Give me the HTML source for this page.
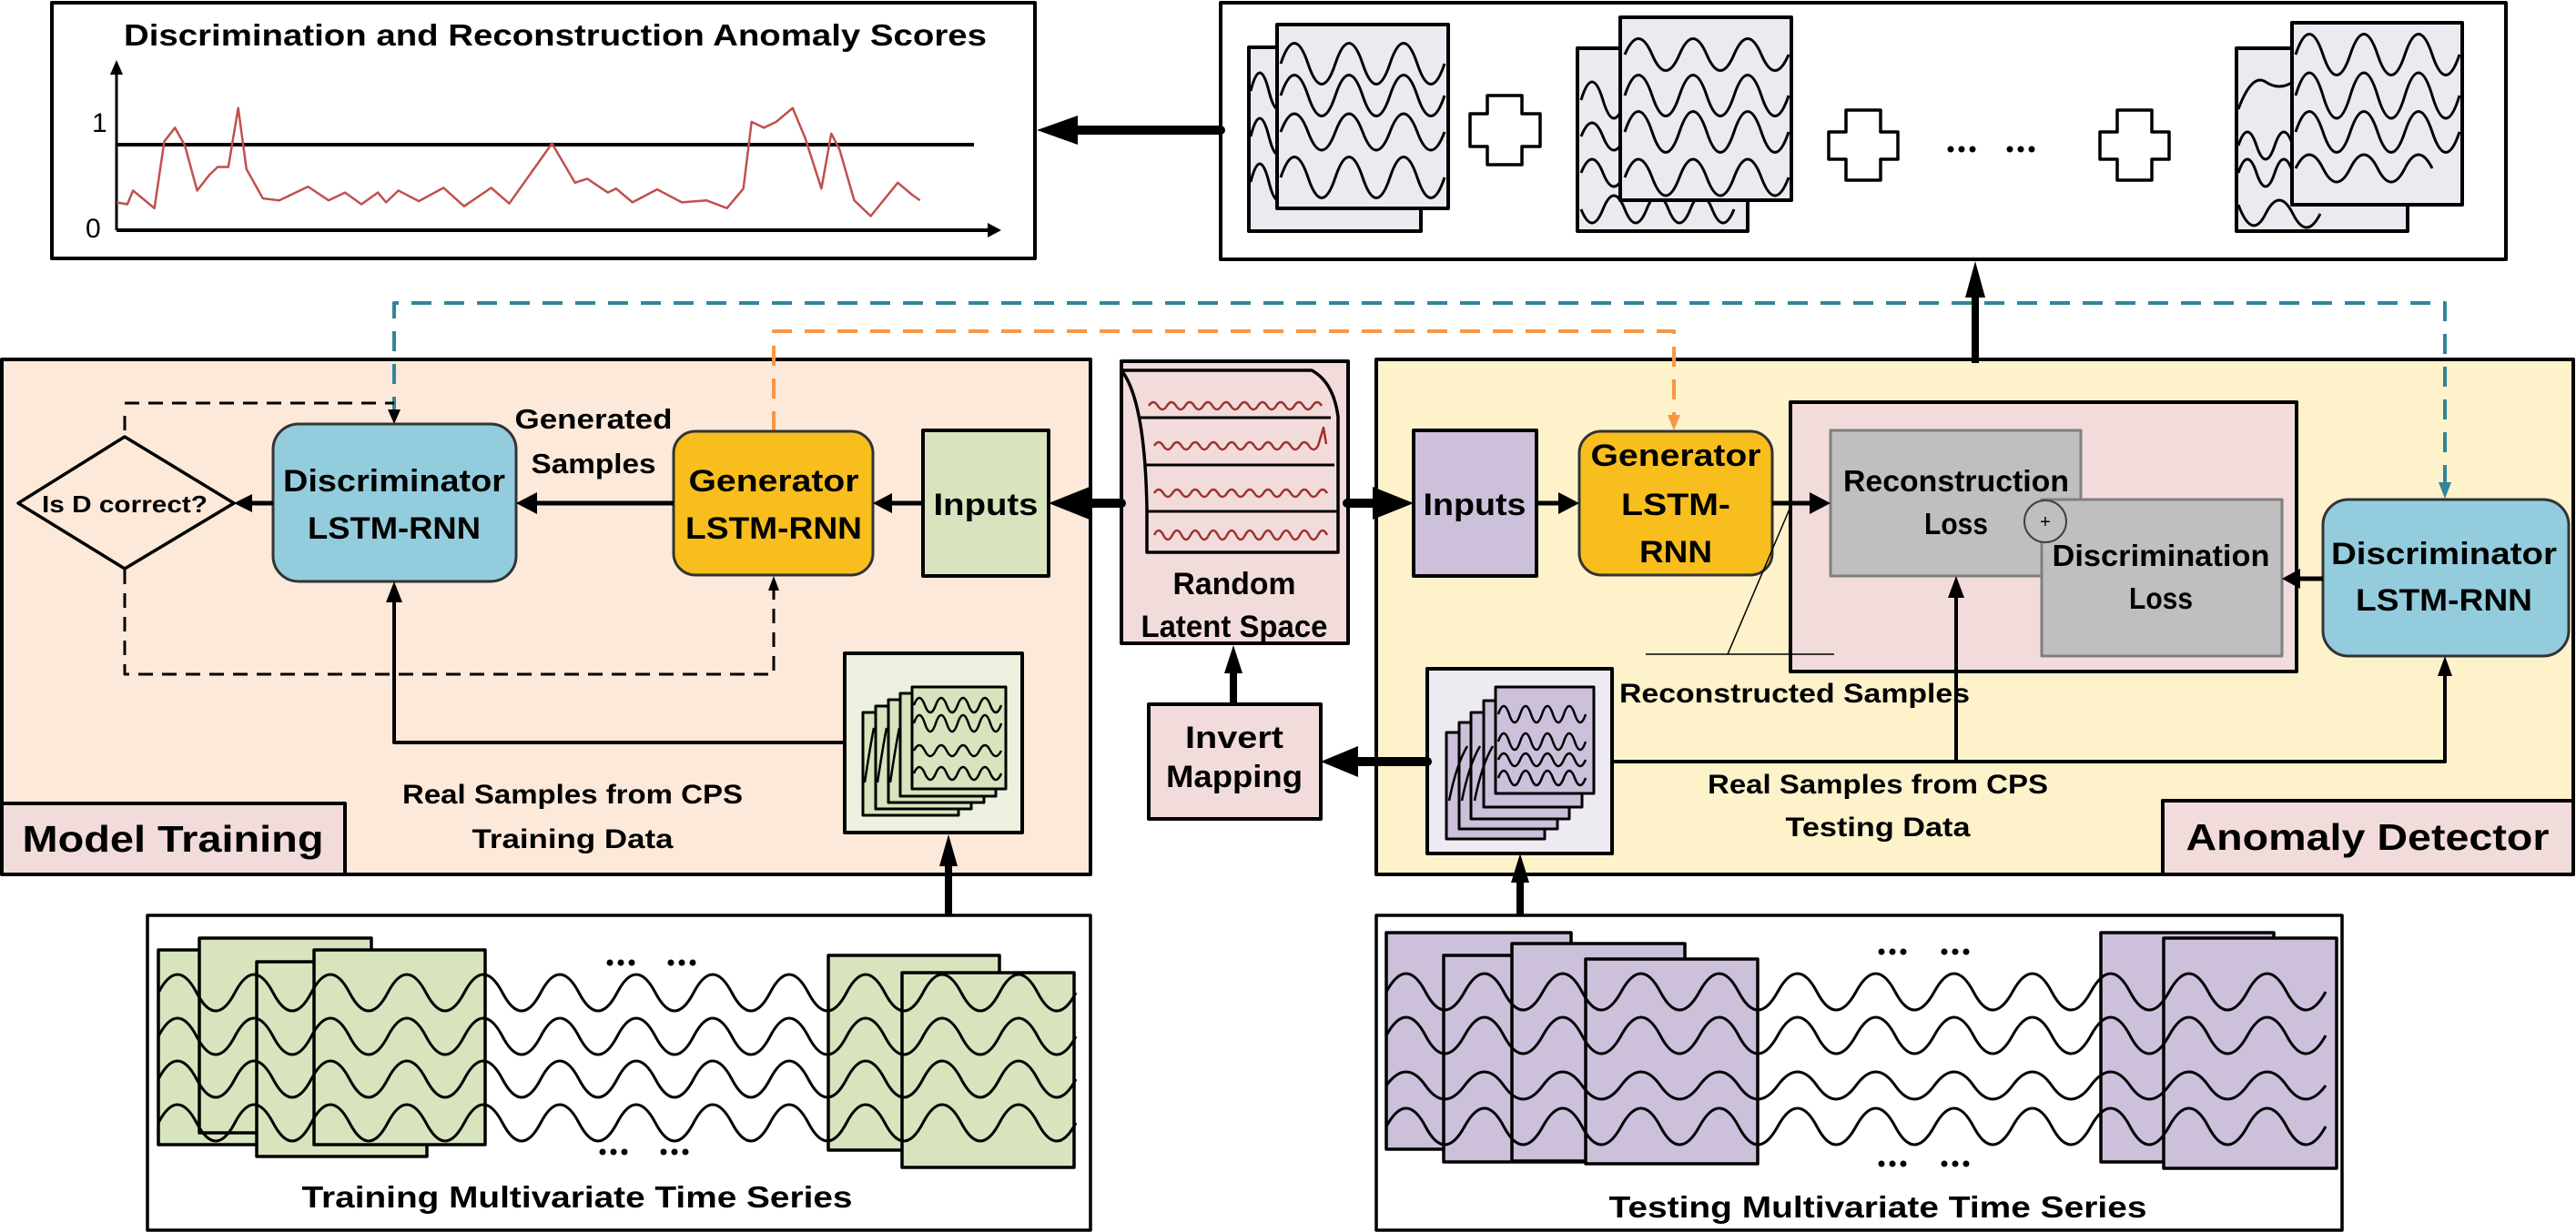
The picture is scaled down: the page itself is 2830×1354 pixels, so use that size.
<!DOCTYPE html>
<html><head><meta charset="utf-8"><style>
html,body{margin:0;padding:0;background:#fff}
svg{display:block}
text{font-family:"Liberation Sans",sans-serif;font-weight:bold;fill:#000}
</style></head><body>
<svg width="2830" height="1354" viewBox="0 0 2830 1354" xmlns="http://www.w3.org/2000/svg">
<g fill="none" stroke="#000" stroke-linejoin="round">

<!-- ============ SCORE BOX ============ -->
<rect x="57" y="3" width="1080" height="281" fill="#fff" stroke-width="4"/>
<line x1="128" y1="253" x2="128" y2="80" stroke-width="3"/>
<polygon points="128,66 121,82 135,82" fill="#000" stroke="none"/>
<line x1="128" y1="253" x2="1085" y2="253" stroke-width="4"/>
<polygon points="1100,253 1085,245 1085,261" fill="#000" stroke="none"/>
<line x1="128" y1="159" x2="1070" y2="159" stroke-width="4"/>
<g transform="scale(0.9024 0.4318)">
<path vector-effect="non-scaling-stroke" stroke="#C0504D" stroke-width="2.5" d="M142,515 L155,520 L162,485 L188,530 L200,360 L213,325 L225,370 L240,485 L255,445 L265,425 L278,425 L290,275 L300,430 L320,505 L340,510 L375,475 L400,510 L420,490 L440,520 L460,490 L470,515 L485,485 L510,512 L540,478 L565,525 L598,478 L620,518 L672,365 L700,465 L715,455 L740,490 L750,480 L770,515 L800,482 L830,515 L860,510 L885,530 L905,480 L915,310 L930,325 L945,310 L965,275 L980,350 L1000,480 L1012,340 L1022,380 L1040,510 L1060,550 L1093,465 L1110,495 L1120,510"/>
</g>

<!-- ============ TOP RIGHT BOX ============ -->
<rect x="1341" y="3" width="1412" height="282" fill="#fff" stroke-width="4"/>
<!-- group1 -->
<rect x="1372" y="52" width="189" height="202" fill="#EDE9F1" stroke-width="4"/>
<path stroke-width="3" d="M1374,100 q10,-40 20,0 t20,0 M1374,150 q10,-40 20,0 t20,0 M1374,200 q10,-40 20,0 t20,0"/>
<rect x="1403" y="27" width="188" height="202" fill="#EDE9F1" stroke-width="4"/>
<path stroke-width="3" d="M1407,70 q15,-45 30,0 t30,0 t30,0 t30,0 t30,0 t30,0 M1407,105 q15,-45 30,0 t30,0 t30,0 t30,0 t30,0 t30,0 M1407,145 q15,-40 30,0 t30,0 t30,0 t30,0 t30,0 t30,0 M1407,195 q15,-45 30,0 t30,0 t30,0 t30,0 t30,0 t30,0"/>
<!-- plus shapes -->
<path fill="#fff" stroke-width="3.5" d="M1634,105 h38 v20 h20 v36 h-20 v20 h-38 v-20 h-19 v-36 h19 z"/>
<path fill="#fff" stroke-width="3.5" d="M2028,121 h38 v24 h19 v30 h-19 v23 h-38 v-23 h-19 v-30 h19 z"/>
<path fill="#fff" stroke-width="3.5" d="M2326,121 h38 v24 h19 v30 h-19 v23 h-38 v-23 h-19 v-30 h19 z"/>
<!-- group2 -->
<rect x="1733" y="53" width="187" height="201" fill="#EDE9F1" stroke-width="4"/>
<path stroke-width="3" d="M1737,110 q12,-40 24,0 t24,0 M1737,150 q12,-30 24,0 t24,0 M1737,190 q12,-30 24,0 t24,0 M1737,230 q12,30 24,0 t24,0 t24,0 t24,0 t24,0 t24,0 t24,0"/>
<rect x="1780" y="19" width="188" height="201" fill="#EDE9F1" stroke-width="4"/>
<path stroke-width="3" d="M1785,60 q15,-35 30,0 t30,0 t30,0 t30,0 t30,0 t30,0 M1785,105 q15,-45 30,0 t30,0 t30,0 t30,0 t30,0 t30,0 M1785,145 q15,-45 30,0 t30,0 t30,0 t30,0 t30,0 t30,0 M1785,195 q15,-40 30,0 t30,0 t30,0 t30,0 t30,0 t30,0"/>
<circle cx="2143" cy="164" r="3.5" fill="#000" stroke="none"/><circle cx="2155" cy="164" r="3.5" fill="#000" stroke="none"/><circle cx="2167" cy="164" r="3.5" fill="#000" stroke="none"/>
<circle cx="2208" cy="164" r="3.5" fill="#000" stroke="none"/><circle cx="2220" cy="164" r="3.5" fill="#000" stroke="none"/><circle cx="2232" cy="164" r="3.5" fill="#000" stroke="none"/>
<!-- group3 -->
<rect x="2457" y="53" width="188" height="201" fill="#EDE9F1" stroke-width="4"/>
<path stroke-width="3" d="M2459,120 q15,-40 30,-30 t30,0 M2459,160 q10,-30 20,0 t20,0 t20,0 M2459,190 q10,-30 20,0 t20,0 t20,0 M2459,225 q15,40 30,10 t30,0 t30,0"/>
<rect x="2518" y="25" width="187" height="200" fill="#EDE9F1" stroke-width="4"/>
<path stroke-width="3" d="M2522,60 q15,-45 30,0 t30,0 t30,0 t30,0 t30,0 t30,0 M2522,105 q15,-50 30,0 t30,0 t30,0 t30,0 t30,0 t30,0 M2522,145 q15,-45 30,0 t30,0 t30,0 t30,0 t30,0 t30,0 M2522,185 q15,-30 30,0 t30,0 t30,0 t30,0 t30,0"/>

<!-- arrow to score box -->
<line x1="1341" y1="143" x2="1180" y2="143" stroke-width="10" stroke-linecap="round"/>
<polygon points="1139,143 1184,127 1184,159" fill="#000" stroke="none"/>

<!-- ============ MODEL TRAINING BOX ============ -->
<rect x="2" y="395" width="1196" height="566" fill="#FCE9DA" stroke-width="4"/>
<rect x="2" y="883" width="377" height="78" fill="#F2DCDB" stroke-width="4"/>

<!-- ============ ANOMALY BOX ============ -->
<rect x="1512" y="395" width="1315" height="566" fill="#FEF2CB" stroke-width="4"/>
<rect x="2376" y="880" width="451" height="81" fill="#F2DCDB" stroke-width="4"/>

<!-- pink loss box -->
<rect x="1967" y="442" width="556" height="296" fill="#F2DCDB" stroke-width="4"/>
<rect x="2011" y="473" width="275" height="160" fill="#BFBFBF" stroke="#7f7f7f" stroke-width="3"/>
<rect x="2243" y="549" width="264" height="172" fill="#BFBFBF" stroke="#7f7f7f" stroke-width="3"/>
<circle cx="2247" cy="573" r="23" fill="#BFBFBF" stroke="#404040" stroke-width="2"/>

<!-- ============ LATENT BOX ============ -->
<rect x="1232" y="397" width="249" height="310" fill="#F2DCDB" stroke-width="4"/>
<path stroke-width="3.5" d="M1232,407 L1441,407 Q1465,420 1470,458 L1470,607 L1260,607 L1260,560 Q1258,440 1232,407 Z"/>
<path stroke-width="3" d="M1252,459 L1462,459 M1258,511 L1466,511 M1260,562 L1469,562"/>
<g stroke="#A0302D" stroke-width="2.5">
<path d="M1262,446 q5,-8 10,0 t10,0 t10,0 t10,0 t10,0 t10,0 t10,0 t10,0 t10,0 t10,0 t10,0 t10,0 t10,0 t10,0 t10,0 t10,0 t10,0 t10,0 t10,0"/>
<path d="M1268,490 q5,-8 10,0 t10,0 t10,0 t10,0 t10,0 t10,0 t10,0 t10,0 t10,0 t10,0 t10,0 t10,0 t10,0 t10,0 t10,0 t10,0 t10,0 t10,0 l6,-20 l3,18"/>
<path d="M1268,542 q5,-8 10,0 t10,0 t10,0 t10,0 t10,0 t10,0 t10,0 t10,0 t10,0 t10,0 t10,0 t10,0 t10,0 t10,0 t10,0 t10,0 t10,0 t10,0 t10,0"/>
<path d="M1268,588 q5,-10 10,0 t10,0 t10,0 t10,0 t10,0 t10,0 t10,0 t10,0 t10,0 t10,0 t10,0 t10,0 t10,0 t10,0 t10,0 t10,0 t10,0 t10,0 t10,0"/>
</g>

<!-- invert mapping -->
<rect x="1262" y="774" width="189" height="126" fill="#F2DCDB" stroke-width="4"/>

<!-- ============ DASHED LINES ============ -->
<path stroke="#31859C" stroke-width="4" stroke-dasharray="22,14" d="M433,458 L433,333 L2686,333 L2686,540"/>
<polygon points="2686,548 2679,530 2693,530" fill="#31859C" stroke="none"/>
<path stroke="#F79646" stroke-width="4" stroke-dasharray="22,14" d="M850,474 L850,364 L1839,364 L1839,465"/>
<polygon points="1839,473 1832,456 1846,456" fill="#F79646" stroke="none"/>
<path stroke-width="3" stroke-dasharray="16,10" d="M137,443 L433,443 M137,457 L137,480 M137,626 L137,741 L850,741 L850,645"/>
<polygon points="433,466 426,450 440,450" fill="#000" stroke="none"/>
<polygon points="850,633 844,649 856,649" fill="#000" stroke="none"/>

<!-- ============ NODES LEFT ============ -->
<polygon points="20,553 137,480 257,553 137,625" fill="#FCE9DA" stroke-width="3.5"/>
<rect x="300" y="466" width="267" height="173" rx="28" fill="#93CDDD" stroke="#333" stroke-width="3"/>
<rect x="740" y="474" width="219" height="158" rx="24" fill="#F8BE1E" stroke="#333" stroke-width="3"/>
<rect x="1014" y="473" width="138" height="160" fill="#D7E4BD" stroke-width="4"/>

<!-- ============ NODES RIGHT ============ -->
<rect x="1553" y="473" width="135" height="160" fill="#CCC0DA" stroke-width="4"/>
<rect x="1735" y="474" width="212" height="158" rx="24" fill="#F8BE1E" stroke="#333" stroke-width="3"/>
<rect x="2552" y="549" width="270" height="172" rx="28" fill="#93CDDD" stroke="#333" stroke-width="3"/>

<!-- ============ ARROWS ============ -->
<line x1="740" y1="553" x2="585" y2="553" stroke-width="5"/>
<polygon points="567,553 590,541 590,565" fill="#000" stroke="none"/>
<line x1="300" y1="553" x2="272" y2="553" stroke-width="5"/>
<polygon points="257,553 277,543 277,563" fill="#000" stroke="none"/>
<line x1="1014" y1="553" x2="975" y2="553" stroke-width="5"/>
<polygon points="959,553 980,542 980,564" fill="#000" stroke="none"/>
<line x1="1232" y1="553" x2="1190" y2="553" stroke-width="10" stroke-linecap="round"/>
<polygon points="1152,553 1197,535 1197,571" fill="#000" stroke="none"/>
<line x1="1480" y1="553" x2="1512" y2="553" stroke-width="10" stroke-linecap="round"/>
<polygon points="1553,553 1508,535 1508,571" fill="#000" stroke="none"/>
<line x1="1688" y1="553" x2="1718" y2="553" stroke-width="5"/>
<polygon points="1735,553 1712,541 1712,565" fill="#000" stroke="none"/>
<line x1="1947" y1="553" x2="1992" y2="553" stroke-width="5"/>
<polygon points="2011,553 1988,541 1988,565" fill="#000" stroke="none"/>
<line x1="2552" y1="636" x2="2525" y2="636" stroke-width="5"/>
<polygon points="2507,636 2527,625 2527,647" fill="#000" stroke="none"/>
<line x1="2170" y1="399" x2="2170" y2="320" stroke-width="8"/>
<polygon points="2170,287 2159,327 2181,327" fill="#000" stroke="none"/>
<!-- thin reconstruct line -->
<path stroke-width="1.5" d="M1967,557 L1898,719 M1808,719 L2015,719"/>

<!-- real test samples box -->
<rect x="1568" y="735" width="203" height="203" fill="#EEEAF2" stroke-width="4"/>
<g fill="#CCC0DA" stroke-width="3">
<rect x="1589" y="805" width="108" height="117"/>
<rect x="1603" y="794" width="108" height="117"/>
<rect x="1616" y="783" width="108" height="117"/>
<rect x="1630" y="770" width="108" height="117"/>
<rect x="1643" y="755" width="108" height="117"/>
</g>
<path stroke-width="2.5" d="M1646,785 q6,-18 12,0 t12,0 t12,0 t12,0 t12,0 t12,0 t12,0 t12,0 M1646,815 q6,-18 12,0 t12,0 t12,0 t12,0 t12,0 t12,0 t12,0 t12,0 M1646,835 q6,-14 12,0 t12,0 t12,0 t12,0 t12,0 t12,0 t12,0 t12,0 M1646,855 q6,-16 12,0 t12,0 t12,0 t12,0 t12,0 t12,0 t12,0 t12,0 M1592,880 q8,-40 20,-60 M1606,880 q8,-40 20,-60 M1620,880 q8,-40 20,-60"/>
<line x1="1568" y1="837" x2="1490" y2="837" stroke-width="10" stroke-linecap="round"/>
<polygon points="1451,837 1492,820 1492,854" fill="#000" stroke="none"/>
<path stroke-width="4" d="M1771,837 L2686,837 L2686,741 M2149,837 L2149,655"/>
<polygon points="2149,633 2140,657 2158,657" fill="#000" stroke="none"/>
<polygon points="2686,721 2678,743 2694,743" fill="#000" stroke="none"/>

<!-- invert -> latent -->
<line x1="1355" y1="774" x2="1355" y2="735" stroke-width="8"/>
<polygon points="1355,709 1345,740 1365,740" fill="#000" stroke="none"/>

<!-- real train samples box -->
<rect x="928" y="718" width="195" height="197" fill="#EBF1DE" stroke-width="4"/>
<g fill="#D7E4BD" stroke-width="3">
<rect x="948" y="783" width="105" height="113"/>
<rect x="962" y="776" width="105" height="113"/>
<rect x="976" y="769" width="105" height="113"/>
<rect x="989" y="762" width="105" height="113"/>
<rect x="1002" y="755" width="103" height="112"/>
</g>
<path stroke-width="2.5" d="M1004,775 q6,-16 12,0 t12,0 t12,0 t12,0 t12,0 t12,0 t12,0 t12,0 M1004,795 q6,-18 12,0 t12,0 t12,0 t12,0 t12,0 t12,0 t12,0 t12,0 M1004,825 q6,-12 12,0 t12,0 t12,0 t12,0 t12,0 t12,0 t12,0 t12,0 M1004,850 q6,-14 12,0 t12,0 t12,0 t12,0 t12,0 t12,0 t12,0 t12,0 M950,860 q6,-40 10,-60 M964,860 q6,-40 10,-60 M978,860 q6,-40 10,-60"/>
<path stroke-width="4" d="M928,816 L433,816 L433,660"/>
<polygon points="433,639 424,662 442,662" fill="#000" stroke="none"/>

<!-- ============ TRAINING TS ============ -->
<rect x="162" y="1006" width="1036" height="346" fill="#fff" stroke-width="3.5"/>
<g fill="#D7E4BD" stroke-width="3.5">
<rect x="174" y="1044" width="187" height="214"/>
<rect x="219" y="1031" width="189" height="214"/>
<rect x="282" y="1057" width="187" height="214"/>
<rect x="345" y="1044" width="188" height="214"/>
<rect x="910" y="1050" width="188" height="214"/>
<rect x="991" y="1069" width="189" height="214"/>
</g>
<path stroke-width="3" d="M174,1091 q21,-40 42,0 t42,0 t42,0 t42,0 t42,0 t42,0 t42,0 t42,0 t42,0 t42,0 t42,0 t42,0 t42,0 t42,0 t42,0 t42,0 t42,0 t42,0 t42,0 t42,0 t42,0 t42,0 t42,0 t42,0
M174,1139 q21,-40 42,0 t42,0 t42,0 t42,0 t42,0 t42,0 t42,0 t42,0 t42,0 t42,0 t42,0 t42,0 t42,0 t42,0 t42,0 t42,0 t42,0 t42,0 t42,0 t42,0 t42,0 t42,0 t42,0 t42,0
M174,1186 q21,-40 42,0 t42,0 t42,0 t42,0 t42,0 t42,0 t42,0 t42,0 t42,0 t42,0 t42,0 t42,0 t42,0 t42,0 t42,0 t42,0 t42,0 t42,0 t42,0 t42,0 t42,0 t42,0 t42,0 t42,0
M174,1234 q21,-40 42,0 t42,0 t42,0 t42,0 t42,0 t42,0 t42,0 t42,0 t42,0 t42,0 t42,0 t42,0 t42,0 t42,0 t42,0 t42,0 t42,0 t42,0 t42,0 t42,0 t42,0 t42,0 t42,0 t42,0"/>
<line x1="1042" y1="1006" x2="1042" y2="950" stroke-width="8"/>
<polygon points="1042,917 1032,952 1052,952" fill="#000" stroke="none"/>
<g fill="#000" stroke="none">
<circle cx="670" cy="1058" r="3.5"/><circle cx="682" cy="1058" r="3.5"/><circle cx="694" cy="1058" r="3.5"/>
<circle cx="737" cy="1058" r="3.5"/><circle cx="749" cy="1058" r="3.5"/><circle cx="761" cy="1058" r="3.5"/>
<circle cx="662" cy="1266" r="3.5"/><circle cx="674" cy="1266" r="3.5"/><circle cx="686" cy="1266" r="3.5"/>
<circle cx="729" cy="1266" r="3.5"/><circle cx="741" cy="1266" r="3.5"/><circle cx="753" cy="1266" r="3.5"/>
</g>

<!-- ============ TESTING TS ============ -->
<rect x="1512" y="1006" width="1061" height="346" fill="#fff" stroke-width="3.5"/>
<g fill="#CCC0DA" stroke-width="3.5">
<rect x="1523" y="1025" width="203" height="238"/>
<rect x="1586" y="1050" width="154" height="227"/>
<rect x="1661" y="1037" width="190" height="239"/>
<rect x="1742" y="1054" width="189" height="225"/>
<rect x="2308" y="1025" width="190" height="252"/>
<rect x="2377" y="1031" width="190" height="253"/>
</g>
<path stroke-width="3" d="M1523,1090 q22,-40 43,0 t43,0 t43,0 t43,0 t43,0 t43,0 t43,0 t43,0 t43,0 t43,0 t43,0 t43,0 t43,0 t43,0 t43,0 t43,0 t43,0 t43,0 t43,0 t43,0 t43,0 t43,0 t43,0 t43,0
M1523,1138 q22,-40 43,0 t43,0 t43,0 t43,0 t43,0 t43,0 t43,0 t43,0 t43,0 t43,0 t43,0 t43,0 t43,0 t43,0 t43,0 t43,0 t43,0 t43,0 t43,0 t43,0 t43,0 t43,0 t43,0 t43,0
M1523,1193 q22,-30 43,0 t43,0 t43,0 t43,0 t43,0 t43,0 t43,0 t43,0 t43,0 t43,0 t43,0 t43,0 t43,0 t43,0 t43,0 t43,0 t43,0 t43,0 t43,0 t43,0 t43,0 t43,0 t43,0 t43,0
M1523,1238 q22,-40 43,0 t43,0 t43,0 t43,0 t43,0 t43,0 t43,0 t43,0 t43,0 t43,0 t43,0 t43,0 t43,0 t43,0 t43,0 t43,0 t43,0 t43,0 t43,0 t43,0 t43,0 t43,0 t43,0 t43,0"/>
<line x1="1670" y1="1006" x2="1670" y2="965" stroke-width="8"/>
<polygon points="1670,938 1660,970 1680,970" fill="#000" stroke="none"/>
<g fill="#000" stroke="none">
<circle cx="2067" cy="1046" r="3.5"/><circle cx="2079" cy="1046" r="3.5"/><circle cx="2091" cy="1046" r="3.5"/>
<circle cx="2136" cy="1046" r="3.5"/><circle cx="2148" cy="1046" r="3.5"/><circle cx="2160" cy="1046" r="3.5"/>
<circle cx="2067" cy="1279" r="3.5"/><circle cx="2079" cy="1279" r="3.5"/><circle cx="2091" cy="1279" r="3.5"/>
<circle cx="2136" cy="1279" r="3.5"/><circle cx="2148" cy="1279" r="3.5"/><circle cx="2160" cy="1279" r="3.5"/>
</g>
</g>

<!-- ============ TEXT ============ -->
<text x="136" y="50" font-size="33" textLength="948" lengthAdjust="spacingAndGlyphs">Discrimination and Reconstruction Anomaly  Scores</text>
<text x="101" y="145" font-size="30" style="font-weight:normal">1</text>
<text x="94" y="261" font-size="30" style="font-weight:normal">0</text>

<text x="652" y="471" font-size="31" text-anchor="middle" textLength="173" lengthAdjust="spacingAndGlyphs">Generated</text>
<text x="652" y="520" font-size="31" text-anchor="middle" textLength="137" lengthAdjust="spacingAndGlyphs">Samples</text>
<text x="433" y="540" font-size="34" text-anchor="middle" textLength="244" lengthAdjust="spacingAndGlyphs">Discriminator</text>
<text x="433" y="592" font-size="34" text-anchor="middle" textLength="190" lengthAdjust="spacingAndGlyphs">LSTM-RNN</text>
<text x="850" y="540" font-size="34" text-anchor="middle" textLength="187" lengthAdjust="spacingAndGlyphs">Generator</text>
<text x="850" y="592" font-size="34" text-anchor="middle" textLength="194" lengthAdjust="spacingAndGlyphs">LSTM-RNN</text>
<text x="1083" y="566" font-size="34" text-anchor="middle" textLength="115" lengthAdjust="spacingAndGlyphs">Inputs</text>
<text x="137" y="563" font-size="26" text-anchor="middle" textLength="182" lengthAdjust="spacingAndGlyphs">Is D correct?</text>

<text x="1356" y="653" font-size="34" text-anchor="middle" textLength="135" lengthAdjust="spacingAndGlyphs">Random</text>
<text x="1356" y="700" font-size="34" text-anchor="middle" textLength="205" lengthAdjust="spacingAndGlyphs">Latent Space</text>
<text x="1356" y="822" font-size="34" text-anchor="middle" textLength="108" lengthAdjust="spacingAndGlyphs">Invert</text>
<text x="1356" y="865" font-size="34" text-anchor="middle" textLength="150" lengthAdjust="spacingAndGlyphs">Mapping</text>

<text x="1620" y="566" font-size="34" text-anchor="middle" textLength="113" lengthAdjust="spacingAndGlyphs">Inputs</text>
<text x="1841" y="512" font-size="34" text-anchor="middle" textLength="187" lengthAdjust="spacingAndGlyphs">Generator</text>
<text x="1841" y="566" font-size="34" text-anchor="middle" textLength="120" lengthAdjust="spacingAndGlyphs">LSTM-</text>
<text x="1841" y="618" font-size="34" text-anchor="middle" textLength="80" lengthAdjust="spacingAndGlyphs">RNN</text>
<text x="2149" y="540" font-size="33" text-anchor="middle" textLength="248" lengthAdjust="spacingAndGlyphs">Reconstruction</text>
<text x="2149" y="587" font-size="33" text-anchor="middle" textLength="70" lengthAdjust="spacingAndGlyphs">Loss</text>
<text x="2374" y="622" font-size="33" text-anchor="middle" textLength="239" lengthAdjust="spacingAndGlyphs">Discrimination</text>
<text x="2374" y="669" font-size="33" text-anchor="middle" textLength="70" lengthAdjust="spacingAndGlyphs">Loss</text>
<text x="2247" y="580" font-size="20" text-anchor="middle" style="font-weight:normal">+</text>
<text x="2685" y="620" font-size="34" text-anchor="middle" textLength="248" lengthAdjust="spacingAndGlyphs">Discriminator</text>
<text x="2685" y="671" font-size="34" text-anchor="middle" textLength="194" lengthAdjust="spacingAndGlyphs">LSTM-RNN</text>

<text x="1779" y="772" font-size="30" textLength="385" lengthAdjust="spacingAndGlyphs">Reconstructed Samples</text>
<text x="2063" y="872" font-size="30" text-anchor="middle" textLength="374" lengthAdjust="spacingAndGlyphs">Real Samples from CPS</text>
<text x="2063" y="919" font-size="30" text-anchor="middle" textLength="203" lengthAdjust="spacingAndGlyphs">Testing Data</text>
<text x="2601" y="934" font-size="41" text-anchor="middle" textLength="399" lengthAdjust="spacingAndGlyphs">Anomaly Detector</text>
<text x="2063" y="1338" font-size="33" text-anchor="middle" textLength="591" lengthAdjust="spacingAndGlyphs">Testing Multivariate Time Series</text>

<text x="190" y="936" font-size="41" text-anchor="middle" textLength="331" lengthAdjust="spacingAndGlyphs">Model Training</text>
<text x="629" y="883" font-size="30" text-anchor="middle" textLength="374" lengthAdjust="spacingAndGlyphs">Real Samples from CPS</text>
<text x="629" y="932" font-size="30" text-anchor="middle" textLength="221" lengthAdjust="spacingAndGlyphs">Training Data</text>
<text x="634" y="1327" font-size="33" text-anchor="middle" textLength="605" lengthAdjust="spacingAndGlyphs">Training Multivariate Time Series</text>
</svg>
</body></html>
